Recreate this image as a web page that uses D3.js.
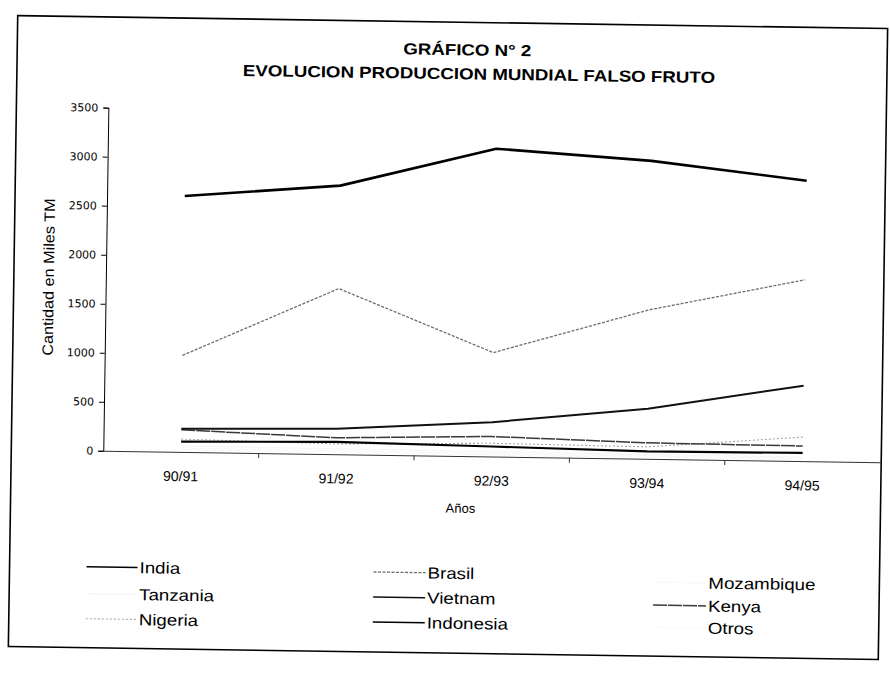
<!DOCTYPE html>
<html>
<head>
<meta charset="utf-8">
<script src="https://cdn.jsdelivr.net/npm/d3@7"></script>
<style>
  html, body { margin: 0; padding: 0; background: #fff; }
  svg { display: block; }
  text { font-family: "Liberation Sans", Arial, sans-serif; fill: #000; }
</style>
</head>
<body>
<svg id="chart" width="890" height="675"></svg>
<script>
// Campaigns (x categories)
const categories = ["90/91", "91/92", "92/93", "93/94", "94/95"];

// Production of cashew apple, thousands of tonnes
const india      = [2610, 2740, 3140, 3040, 2860];
const brasil     = [985, 1690, 1060, 1520, 1850];
const vietnam    = [235, 260, 350, 510, 770];
const kenya      = [225, 168, 204, 163, 154];
const nigeria    = [131, 105, 135, 122, 245];
const indonesia  = [105, 125, 102, 75, 84];
const tanzania   = [60, 55, 50, 45, 40];
const mozambique = [40, 35, 30, 30, 25];
const otros      = [20, 20, 15, 15, 15];

const yTicks = [0, 500, 1000, 1500, 2000, 2500, 3000, 3500];

const seriesNames = ["India", "Tanzania", "Nigeria", "Brasil", "Vietnam",
                     "Indonesia", "Mozambique", "Kenya", "Otros"];
const seriesValues = [india, tanzania, nigeria, brasil, vietnam,
                      indonesia, mozambique, kenya, otros];

// Line styles per series
const styles = {
  India:      { color: "#000",    width: 2.6, dash: null },
  Tanzania:   { color: "#f6f6f6", width: 1.2, dash: null },
  Nigeria:    { color: "#a8a8a8", width: 1.1, dash: "2,2" },
  Brasil:     { color: "#6e6e6e", width: 1.3, dash: "3,1.5" },
  Vietnam:    { color: "#111",    width: 2.0, dash: null },
  Indonesia:  { color: "#000",    width: 2.2, dash: null },
  Mozambique: { color: "#f8f8f8", width: 1.2, dash: null },
  Kenya:      { color: "#3a3a3a", width: 1.5, dash: "14,1" },
  Otros:      { color: "#fafafa", width: 1.2, dash: null }
};

const svg = d3.select("#chart");
// The printed sheet sits slightly tilted
const page = svg.append("g").attr("transform", "rotate(0.85 445 337)");

// Frame
page.append("rect")
  .attr("x", 13).attr("y", 22).attr("width", 870).attr("height", 631)
  .attr("fill", "none").attr("stroke", "#000").attr("stroke-width", 1.6);

// Helper for horizontally widened text
function wideText(g, x, y, str, size, sx, anchor, weight) {
  const t = g.append("text")
    .attr("transform", `translate(${x},${y}) scale(${sx},1)`)
    .attr("text-anchor", anchor || "start")
    .style("font-size", size + "px")
    .text(str);
  if (weight) t.style("font-weight", weight);
  return t;
}

// Title
wideText(page, 463, 55, "GRÁFICO N° 2", 16, 1.17, "middle", "bold");
wideText(page, 475, 79, "EVOLUCION PRODUCCION MUNDIAL FALSO FRUTO", 16, 1.17, "middle", "bold");

// Scales
const x = d3.scaleBand().domain(categories).range([105, 882]);
const y = d3.scaleLinear().domain([0, 3500]).range([455.8, 112.7]);
const cx = d => x(d) + x.bandwidth() / 2;

// Y axis
const yAxis = page.append("g").attr("transform", "translate(105,0)")
  .call(d3.axisLeft(y).tickValues(yTicks).tickFormat(d3.format("d"))
    .tickSize(5).tickPadding(5));
yAxis.select(".domain").attr("stroke", "#000").attr("stroke-width", 1);
yAxis.selectAll(".tick line").attr("stroke", "#000");
yAxis.selectAll(".tick text")
  .style("font-family", "'DejaVu Sans', sans-serif")
  .style("font-size", "11px")
  .attr("fill", "#000");

// X axis
const xAxis = page.append("g").attr("transform", `translate(0,${y(0)})`)
  .call(d3.axisBottom(x).tickSize(0).tickPadding(0).tickFormat(() => ""));
xAxis.select(".domain").attr("stroke", "#333").attr("stroke-width", 1.1);
// tick marks at category boundaries
page.append("g").selectAll("line")
  .data(categories.slice(1))
  .join("line")
  .attr("x1", d => x(d)).attr("x2", d => x(d))
  .attr("y1", y(0)).attr("y2", y(0) + 5)
  .attr("stroke", "#333");
// category labels
page.append("g").selectAll("text")
  .data(categories)
  .join("text")
  .attr("x", d => cx(d)).attr("y", 485)
  .attr("text-anchor", "middle")
  .style("font-size", "14px")
  .text(d => d);

// Axis titles
page.append("text")
  .attr("transform", "translate(53,283) rotate(-90) scale(1.08,1)")
  .attr("text-anchor", "middle")
  .style("font-size", "15px")
  .text("Cantidad en Miles TM");
page.append("text")
  .attr("x", 463).attr("y", 512.5)
  .attr("text-anchor", "middle")
  .style("font-size", "13px")
  .text("Años");

// Lines
const line = d3.line()
  .x((v, i) => cx(categories[i]))
  .y(v => y(v));

const drawOrder = ["Otros", "Mozambique", "Tanzania", "Nigeria", "Brasil",
                   "Kenya", "Indonesia", "Vietnam", "India"];
page.append("g").selectAll("path")
  .data(drawOrder.map(n => ({ name: n, values: seriesValues[seriesNames.indexOf(n)] })))
  .join("path")
  .attr("d", d => line(d.values))
  .attr("fill", "none")
  .attr("stroke", d => styles[d.name].color)
  .attr("stroke-width", d => styles[d.name].width)
  .attr("stroke-dasharray", d => styles[d.name].dash)
  .attr("stroke-linejoin", "round");

// Legend: three columns of three entries
const legendCols = [
  { lineX: 90,  textX: 143, rows: [572, 599, 624] },
  { lineX: 377, textX: 431, rows: [573, 598, 623] },
  { lineX: 657, textX: 712, rows: [579, 602, 624] }
];
const legend = page.append("g");
seriesNames.forEach((name, i) => {
  const col = legendCols[Math.floor(i / 3)];
  const ry = col.rows[i % 3];
  const s = styles[name];
  legend.append("line")
    .attr("x1", col.lineX).attr("x2", col.textX - 2)
    .attr("y1", ry).attr("y2", ry)
    .attr("stroke", s.color)
    .attr("stroke-width", Math.min(s.width, 1.6))
    .attr("stroke-dasharray", s.dash);
  wideText(legend, col.textX, ry + 5.7, name, 16, 1.17, "start");
});
</script>
</body>
</html>
